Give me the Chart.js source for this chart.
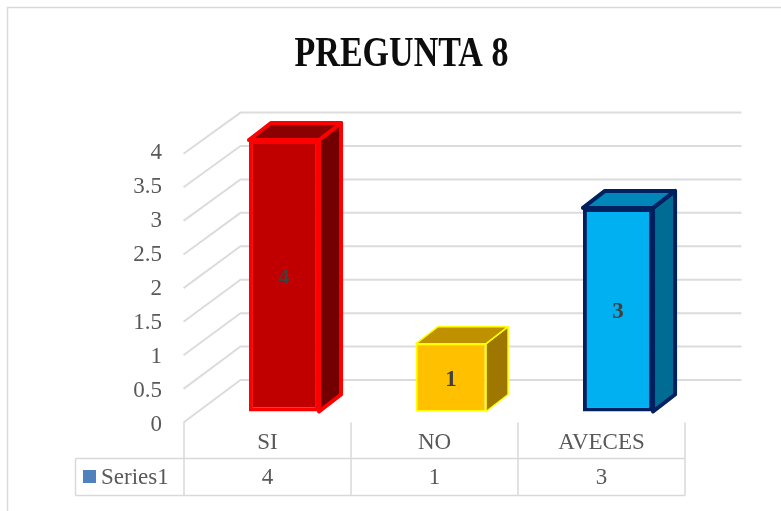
<!DOCTYPE html>
<html>
<head>
<meta charset="utf-8">
<script src="https://cdn.jsdelivr.net/npm/chart.js@4.4.1/dist/chart.umd.min.js"></script>
<style>
  html, body { margin: 0; padding: 0; background: #fff; }
  #wrap { width: 781px; height: 511px; }
</style>
</head>
<body>
<div id="wrap"><canvas id="pregunta_canvas_id" width="781" height="511"></canvas></div>
<script>
// data
var chartTitle = 'PREGUNTA 8';
var categories = ['SI', 'NO', 'AVECES'];
var seriesName = 'Series1';
var seriesValues = [4, 1, 3];
var yTicks = [0, 0.5, 1, 1.5, 2, 2.5, 3, 3.5, 4];

// colours per bar: front, top, side, border
var frontColors = ['#C00000', '#FFC000', '#00B0F0'];
var topColors = ['#8B0000', '#BF9000', '#0086B8'];
var sideColors = ['#720000', '#9E7700', '#006C94'];
var edgeColors = ['#FF0000', '#FFFF00', '#002060'];
var edgeWidths = [4, 1.5, 4];

var SERIF = "'Liberation Serif', 'DejaVu Serif', serif";
var GRID = '#d9d9d9';
var TXT = '#595959';
var FONT_SIZE = 23;

// 3d geometry (pixels)
var barDepth = { dx: 22, dy: -17 };
var wall = { frontShift: -17, depthX: 57, frontDy: 11, backDy: -31.5, kFront: 0.99, kBack: 0.985, rightExtra: 40 };
var tableShift = -16.5;

function frontY(ys, v) {
	var y0 = ys.getPixelForValue(0);
	return y0 + wall.frontDy + (ys.getPixelForValue(v) - y0) * wall.kFront;
}
function backY(ys, v) {
	var y0 = ys.getPixelForValue(0);
	return y0 + wall.backDy + (ys.getPixelForValue(v) - y0) * wall.kBack;
}

var frame3d = {
	id: 'frame3d',
	beforeDatasetsDraw: function(chart) {
		var ctx = chart.ctx, ys = chart.scales.y, area = chart.chartArea;
		var fx = area.left + wall.frontShift;
		var bx = fx + wall.depthX;
		var rx = area.right + wall.rightExtra;
		ctx.save();
		// outer frame
		ctx.strokeStyle = GRID;
		ctx.lineWidth = 1.5;
		ctx.strokeRect(7.5, 7.5, 900, 700);
		// walls
		ctx.lineWidth = 2;
		ctx.strokeStyle = '#dcdcdc';
		yTicks.forEach(function(v) {
			ctx.beginPath();
			ctx.moveTo(fx, frontY(ys, v));
			ctx.lineTo(bx, backY(ys, v));
			ctx.lineTo(rx, backY(ys, v));
			ctx.stroke();
		});
		// 3d faces of bars (top + side), front is drawn by chart.js
		var meta = chart.getDatasetMeta(0);
		meta.data.forEach(function(bar, i) {
			var p = bar.getProps(['x', 'y', 'base', 'width'], true);
			var L = p.x - p.width / 2, R = p.x + p.width / 2, T = p.y, B = p.base;
			var dx = barDepth.dx, dy = barDepth.dy;
			ctx.lineJoin = 'round';
			ctx.lineWidth = edgeWidths[i];
			ctx.strokeStyle = edgeColors[i];
			ctx.fillStyle = sideColors[i];
			ctx.beginPath();
			ctx.moveTo(R, T); ctx.lineTo(R + dx, T + dy); ctx.lineTo(R + dx, B + dy); ctx.lineTo(R, B);
			ctx.closePath(); ctx.fill(); ctx.stroke();
			ctx.fillStyle = topColors[i];
			ctx.beginPath();
			ctx.moveTo(L, T); ctx.lineTo(L + dx, T + dy); ctx.lineTo(R + dx, T + dy); ctx.lineTo(R, T);
			ctx.closePath(); ctx.fill(); ctx.stroke();
		});
		ctx.restore();
	},
	afterDatasetsDraw: function(chart) {
		var ctx = chart.ctx, ys = chart.scales.y, xs = chart.scales.x;
		ctx.save();
		// value labels in the bars
		var meta = chart.getDatasetMeta(0);
		ctx.font = 'bold 23px ' + SERIF;
		ctx.fillStyle = '#404040';
		ctx.textAlign = 'center';
		ctx.textBaseline = 'middle';
		meta.data.forEach(function(bar, i) {
			var p = bar.getProps(['x', 'y', 'base'], true);
			ctx.fillText(String(seriesValues[i]), p.x, (p.y + p.base) / 2 + 2);
		});

		// title (condensed look)
		ctx.save();
		ctx.font = 'bold 42px ' + SERIF;
		ctx.fillStyle = '#0d0d0d';
		ctx.textAlign = 'center';
		ctx.textBaseline = 'alphabetic';
		ctx.translate(401.5, 66);
		ctx.scale(0.81, 1);
		ctx.fillText(chartTitle, 0, 0);
		ctx.restore();

		// data table
		var catW = xs.getPixelForValue(1) - xs.getPixelForValue(0);
		var cols = [];
		for (var i = 0; i <= categories.length; i++) {
			cols.push(xs.getPixelForValue(0) - catW / 2 + i * catW + tableShift);
		}
		var top = frontY(ys, 0);
		var rowTop = 458.5, rowBot = 495.5, left = 75.5;
		ctx.strokeStyle = GRID;
		ctx.lineWidth = 1.5;
		ctx.beginPath();
		cols.forEach(function(x) { ctx.moveTo(x, top); ctx.lineTo(x, rowBot); });
		ctx.moveTo(left, rowTop); ctx.lineTo(left, rowBot);
		ctx.moveTo(left, rowTop); ctx.lineTo(cols[cols.length - 1], rowTop);
		ctx.moveTo(left, rowBot); ctx.lineTo(cols[cols.length - 1], rowBot);
		ctx.stroke();

		ctx.font = FONT_SIZE + 'px ' + SERIF;
		ctx.fillStyle = TXT;
		ctx.textBaseline = 'middle';
		ctx.textAlign = 'center';
		seriesValues.forEach(function(v, i) {
			ctx.fillText(String(v), (cols[i] + cols[i + 1]) / 2, (rowTop + rowBot) / 2 + 1);
		});
		ctx.fillStyle = '#4F81BD';
		ctx.fillRect(83, 470, 13, 13);
		ctx.fillStyle = TXT;
		ctx.textAlign = 'left';
		ctx.fillText(seriesName, 101, (rowTop + rowBot) / 2 + 1);
		ctx.restore();
	}
};

var ctx = document.getElementById('pregunta_canvas_id').getContext('2d');
var chart = new Chart(ctx, {
	type: 'bar',
	data: {
		labels: categories,
		datasets: [{
			label: seriesName,
			data: seriesValues,
			backgroundColor: frontColors,
			borderColor: edgeColors,
			borderWidth: edgeWidths,
			borderSkipped: false,
			barPercentage: 0.42,
			categoryPercentage: 1,
			clip: false
		}]
	},
	options: {
		responsive: false,
		animation: false,
		events: [],
		layout: { padding: { top: 140, left: 80.5, right: 79.5, bottom: 0 } },
		plugins: {
			legend: { display: false },
			title: { display: false },
			tooltip: { enabled: false }
		},
		scales: {
			x: {
				grid: { display: false, drawTicks: false },
				border: { display: false },
				ticks: {
					color: TXT,
					font: { family: SERIF, size: FONT_SIZE },
					padding: 18,
					labelOffset: tableShift,
					maxRotation: 0
				},
				afterFit: function(s) { s.height = 99.5; }
			},
			y: {
				min: 0,
				max: 4,
				grid: { display: false, drawTicks: false },
				border: { display: false },
				ticks: {
					stepSize: 0.5,
					color: TXT,
					font: { family: SERIF, size: FONT_SIZE },
					padding: 38.5,
					labelOffset: 13,
					callback: function(v) { return String(v); }
				},
				afterFit: function(s) { s.width = 120; }
			}
		}
	},
	plugins: [frame3d]
});
</script>
</body>
</html>
